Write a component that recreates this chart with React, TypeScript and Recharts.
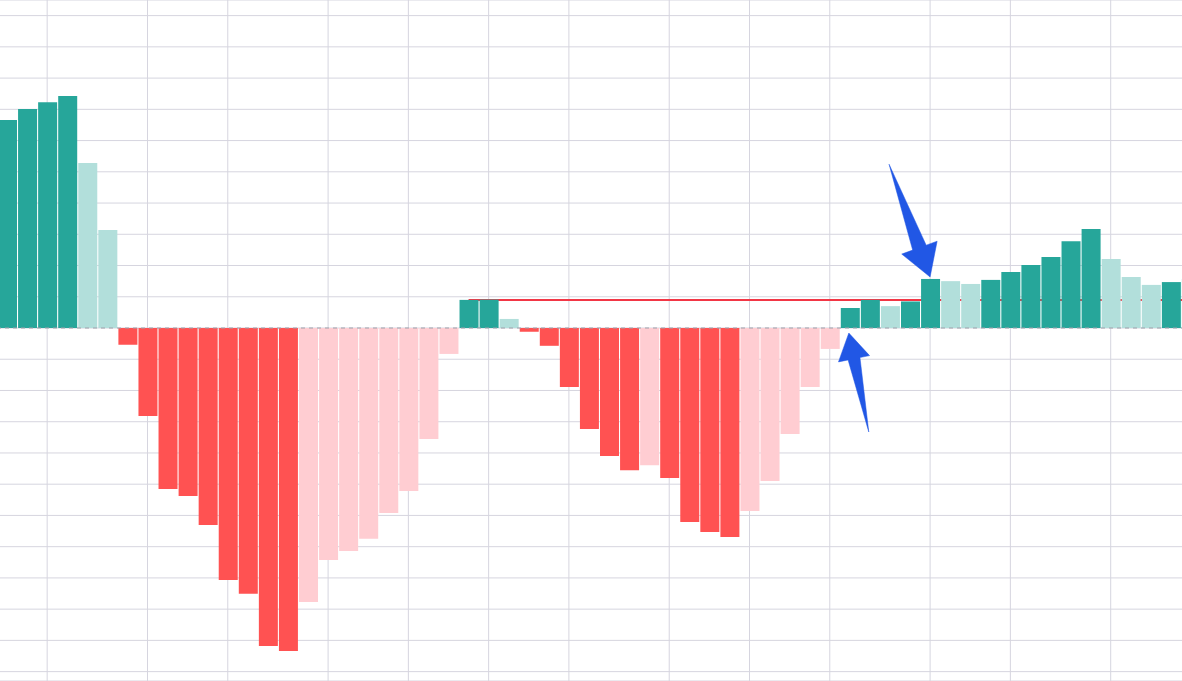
import {
  BarChart,
  Bar,
  Cell,
  XAxis,
  YAxis,
  CartesianGrid,
  ReferenceLine,
  ReferenceDot,
} from "recharts";

// histogram values, one per bar (left to right)
const HIST: number[] = [
  66.6, 70.1, 72.3, 74.3, 52.8, 31.4, -5.4, -28.2, -51.5, -53.8,
  -63.1, -80.7, -85.1, -101.8, -103.4, -87.7, -74.3, -71.4, -67.5, -59.2,
  -52.2, -35.5, -8.3, 9.0, 9.1, 2.9, -1.2, -5.7, -18.9, -32.3,
  -41.0, -45.5, -43.9, -48.0, -62.1, -65.3, -66.9, -58.6, -49.0, -33.9,
  -18.9, -6.7, 6.4, 9.0, 7.0, 8.5, 15.7, 15.0, 14.1, 15.4,
  17.9, 20.2, 22.7, 27.8, 31.7, 22.1, 16.3, 13.8, 14.7, 15.7,
];

// bars where the time scale puts a vertical grid line
const TIME_TICKS: number[] = [2, 7, 11, 16, 20, 24, 28, 33, 37, 41, 46, 50, 55];

const Y_TICKS: number[] = [
  -110, -100, -90, -80, -70, -60, -50, -40, -30, -20, -10,
  0, 10, 20, 30, 40, 50, 60, 70, 80, 90, 100,
];

// horizontal ray drawn from bar 23 to the right edge
const RAY_LEVEL = 9.0;
const RAY_FROM = 23;
const RAY_TO = 59;

const UP = "#26a69a";
const UP_FADE = "#b2dfdb";
const DOWN = "#ff5252";
const DOWN_FADE = "#ffcdd2";

const data = HIST.map((v, i) => ({ i, v }));

const barColor = (i: number) => {
  const v = HIST[i];
  const prev = i > 0 ? HIST[i - 1] : -Infinity;
  if (v >= 0) return v >= prev ? UP : UP_FADE;
  return v < prev ? DOWN : DOWN_FADE;
};

// tapered arrow marker, tip offset from the anchor point
const arrowShape =
  (dx: number, dy: number, angleDeg: number, len: number) => (props: any) => {
    const { cx, cy } = props;
    if (cx == null || cy == null) return <g />;
    const a = (angleDeg * Math.PI) / 180;
    const ux = Math.cos(a);
    const uy = Math.sin(a);
    const nx = -uy;
    const ny = ux;
    const tx = cx + dx;
    const ty = cy + dy;
    const tailX = tx - ux * len;
    const tailY = ty - uy * len;
    const bx = tx - ux * len * 0.26;
    const by = ty - uy * len * 0.26;
    const sw = len * 0.06;
    const hw = len * 0.157;
    const pts = [
      [tailX, tailY],
      [bx + nx * sw, by + ny * sw],
      [bx + nx * hw, by + ny * hw],
      [tx, ty],
      [bx - nx * hw, by - ny * hw],
      [bx - nx * sw, by - ny * sw],
    ]
      .map((p) => `${p[0]},${p[1]}`)
      .join(" ");
    return <polygon points={pts} fill="#2157e5" stroke="#2157e5" strokeWidth={0.5} strokeLinejoin="round" />;
  };

const App = () => {
  return (
    <div
      style={{
        position: "fixed",
        left: 0,
        top: 0,
        width: 1182,
        height: 681,
        overflow: "hidden",
        background: "#ffffff",
      }}
    >
      <div style={{ position: "absolute", left: -3.4, top: 0 }}>
        <BarChart
          width={1204}
          height={681}
          data={data}
          margin={{ top: 0, right: 0, bottom: 0, left: 0 }}
        >
          <CartesianGrid stroke="#d6d5df" strokeWidth={1} />
          <XAxis dataKey="i" type="category" ticks={TIME_TICKS} interval={0} hide />
          <YAxis type="number" domain={[-113, 105]} ticks={Y_TICKS} allowDataOverflow hide />
          <ReferenceLine
            segment={[
              { x: RAY_FROM, y: RAY_LEVEL },
              { x: RAY_TO, y: RAY_LEVEL },
            ]}
            stroke="#f23645"
            strokeWidth={2}
            zIndex={250}
          />
          <Bar dataKey="v" barSize={19} isAnimationActive={false}>
            {data.map((_, index) => (
              <Cell key={`cell-${index}`} fill={barColor(index)} />
            ))}
          </Bar>
          <ReferenceLine y={0} stroke="#9ea1aa" strokeDasharray="4 4" strokeWidth={1} />
          <ReferenceDot x={46} y={HIST[46]} shape={arrowShape(0, -2, 70, 120)} />
          <ReferenceDot x={42} y={0} shape={arrowShape(-1, 5, -101.4, 101)} />
        </BarChart>
      </div>
    </div>
  );
};

export default App;
